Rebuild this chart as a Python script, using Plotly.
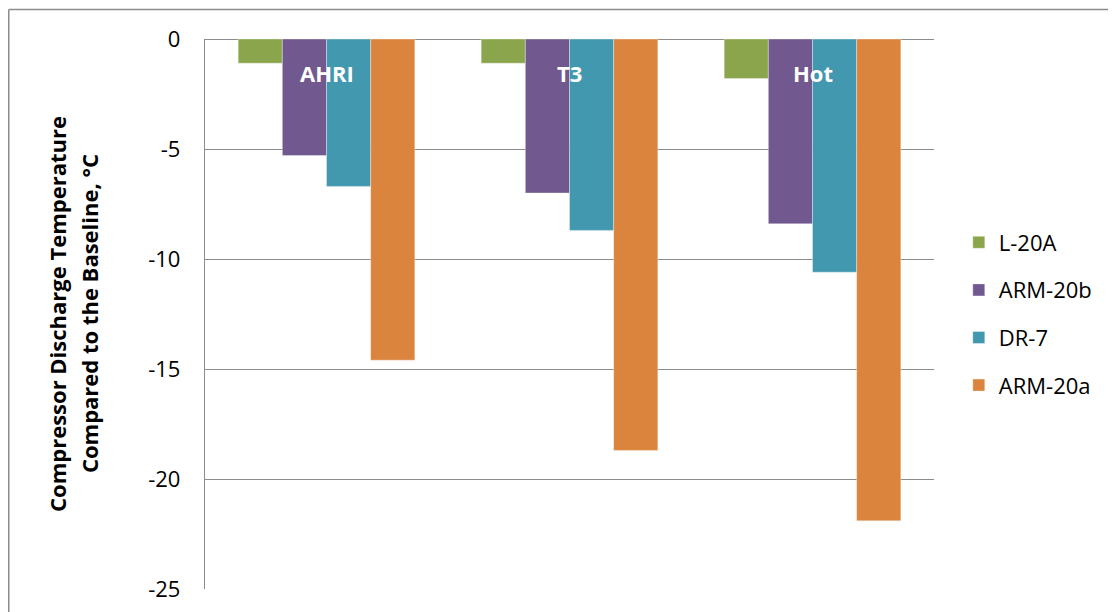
import plotly.graph_objects as go

categories = ["AHRI", "T3", "Hot"]
series_names = ["L-20A", "ARM-20b", "DR-7", "ARM-20a"]
l20a = [-1.1, -1.1, -1.8]
arm20b = [-5.3, -7.0, -8.4]
dr7 = [-6.7, -8.7, -10.6]
arm20a = [-14.6, -18.7, -21.9]
series_values = [l20a, arm20b, dr7, arm20a]
colors = ["#8AA54C", "#71588F", "#4298AF", "#DB843D"]
y_ticks = [0, -5, -10, -15, -20, -25]
y_title_lines = ["Compressor Discharge Temperature", "Compared to the Baseline, °C"]

FONT = "Open Sans"
GRID = "#8C8C8C"

fig = go.Figure()
for i, (name, vals) in enumerate(zip(series_names, series_values)):
    fig.add_trace(go.Bar(
        x=categories, y=vals, name=name, legendgroup=name,
        marker=dict(color=colors[i], line=dict(color="rgba(255,255,255,0.45)", width=0.8)),
    ))

for c in categories:
    fig.add_annotation(x=c, y=0, xref="x", yref="y", text=f"<b>{c}</b>",
                       showarrow=False, yanchor="middle", yshift=-34,
                       font=dict(family=FONT, size=22, color="white"))

for xpos, line in zip([-0.2030, -0.1590], y_title_lines):
    fig.add_annotation(x=xpos, y=0.5, xref="paper", yref="paper", text=f"<b>{line}</b>",
                       textangle=-90, showarrow=False, xanchor="center", yanchor="middle",
                       font=dict(family=FONT, size=22, color="black"))

# outer chart border (top and left visible)
fig.add_shape(type="line", xref="paper", yref="paper", x0=-0.2692, x1=-0.2692, y0=-0.2, y1=1.0538,
              line=dict(color=GRID, width=1.5))
fig.add_shape(type="line", xref="paper", yref="paper", x0=-0.2692, x1=1.4, y0=1.0538, y1=1.0538,
              line=dict(color=GRID, width=1.5))

fig.update_layout(
    width=1116, height=612,
    margin=dict(l=197, r=190, t=31, b=31),
    paper_bgcolor="white", plot_bgcolor="white",
    barmode="group", bargap=0.273, bargroupgap=0,
    font=dict(family=FONT, size=22, color="black"),
    showlegend=True,
    legend=dict(x=1.034, y=0.5, xanchor="left", yanchor="middle",
                font=dict(family=FONT, size=22, color="black"),
                tracegroupgap=16, bgcolor="rgba(0,0,0,0)"),
    xaxis=dict(showticklabels=False, showline=False, showgrid=False, zeroline=False, ticks=""),
    yaxis=dict(range=[-25, 0], tickvals=y_ticks, ticktext=[str(v) for v in y_ticks],
               showgrid=True, gridcolor=GRID, gridwidth=1.3,
               zeroline=True, zerolinecolor=GRID, zerolinewidth=1.3,
               showline=True, linecolor=GRID, linewidth=1.3,
               ticks="", ticklabelstandoff=19,
               tickfont=dict(family=FONT, size=22, color="black")),
)

fig.write_html("out.html")
